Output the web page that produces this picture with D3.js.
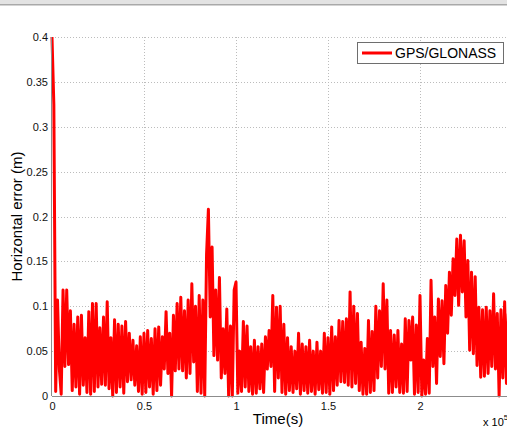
<!DOCTYPE html>
<html>
<head>
<meta charset="utf-8">
<script src="https://cdn.jsdelivr.net/npm/d3@7/dist/d3.min.js"></script>
<style>
  html, body { margin: 0; padding: 0; background: #fff; }
  svg { display: block; font-family: "Liberation Sans", Arial, sans-serif; }
</style>
</head>
<body>
<svg id="chart" width="507" height="427"></svg>
<script>
// Horizontal positioning error of the combined GPS/GLONASS solution,
// one sample every 1000 s (metres).
const sampleInterval = 1000;
const horizontalError = [
  0.400, 0.325, 0.005, 0.107, 0.030, 0.002, 0.118, 0.033, 0.118, 0.035,
  0.095, 0.006, 0.080, 0.010, 0.088, 0.002, 0.090, 0.012, 0.065, 0.004,
  0.094, 0.002, 0.103, 0.005, 0.103, 0.010, 0.076, 0.013, 0.088, 0.012,
  0.105, 0.008, 0.065, 0.000, 0.085, 0.004, 0.080, 0.010, 0.078, 0.003,
  0.083, 0.016, 0.070, 0.018, 0.062, 0.012, 0.056, 0.005, 0.066, 0.002,
  0.070, 0.004, 0.073, 0.010, 0.064, 0.002, 0.075, 0.006, 0.077, 0.012,
  0.066, 0.030, 0.094, 0.025, 0.070, 0.000, 0.090, 0.028, 0.103, 0.030,
  0.110, 0.028, 0.095, 0.020, 0.107, 0.025, 0.125, 0.038, 0.100, 0.005,
  0.112, 0.003, 0.107, 0.000, 0.158, 0.208, 0.088, 0.166, 0.045, 0.118,
  0.040, 0.132, 0.020, 0.075, 0.025, 0.097, 0.000, 0.078, 0.000, 0.118,
  0.127, 0.003, 0.050, 0.005, 0.083, 0.010, 0.078, 0.005, 0.055, 0.002,
  0.062, 0.003, 0.055, 0.008, 0.058, 0.004, 0.066, 0.030, 0.073, 0.033,
  0.112, 0.005, 0.099, 0.020, 0.100, 0.004, 0.080, 0.002, 0.065, 0.006,
  0.055, 0.004, 0.050, 0.008, 0.070, 0.002, 0.058, 0.006, 0.055, 0.003,
  0.062, 0.005, 0.050, 0.002, 0.060, 0.007, 0.050, 0.003, 0.070, 0.004,
  0.065, 0.002, 0.077, 0.006, 0.066, 0.012, 0.084, 0.016, 0.083, 0.015,
  0.086, 0.012, 0.116, 0.010, 0.100, 0.014, 0.092, 0.006, 0.060, 0.002,
  0.053, 0.002, 0.084, 0.004, 0.072, 0.006, 0.100, 0.020, 0.095, 0.033,
  0.125, 0.030, 0.107, 0.003, 0.073, 0.004, 0.068, 0.010, 0.073, 0.004,
  0.058, 0.003, 0.086, 0.005, 0.084, 0.040, 0.088, 0.002, 0.079, 0.004,
  0.112, 0.000, 0.040, 0.002, 0.064, 0.003, 0.129, 0.033, 0.088, 0.014,
  0.108, 0.044, 0.106, 0.036, 0.123, 0.070, 0.138, 0.090, 0.153, 0.112,
  0.175, 0.101, 0.179, 0.116, 0.173, 0.088, 0.151, 0.051, 0.138, 0.047,
  0.133, 0.034, 0.099, 0.021, 0.096, 0.022, 0.099, 0.025, 0.095, 0.033,
  0.114, 0.030, 0.092, 0.000, 0.096, 0.020, 0.105, 0.014, 0.092
];

const xTicks = [0, 50000, 100000, 150000, 200000];
const xTickLabels = ["0", "0.5", "1", "1.5", "2"];
const yTicks = [0, 0.05, 0.1, 0.15, 0.2, 0.25, 0.3, 0.35, 0.4];
const yTickLabels = ["0", "0.05", "0.1", "0.15", "0.2", "0.25", "0.3", "0.35", "0.4"];
const seriesName = "GPS/GLONASS";
const xLabel = "Time(s)";
const yLabel = "Horizontal error (m)";

const svg = d3.select("#chart");
const W = 507, H = 427;
const margin = { left: 52, top: 37, bottom: 31 };
const plotRight = 512;           // axes continue past the right edge of the window

const x = d3.scaleLinear().domain([0, 250000]).range([margin.left, plotRight]);
const y = d3.scaleLinear().domain([0, 0.4]).range([H - margin.bottom, margin.top]);

// window title strip
svg.append("rect").attr("x", 0).attr("y", 0).attr("width", W).attr("height", 4).attr("fill", "#e3e3e3");
svg.append("rect").attr("x", 0).attr("y", 4).attr("width", W).attr("height", 1.5).attr("fill", "#a9a9a9");

// dotted grid
const grid = svg.append("g").attr("stroke", "#bcbcbc").attr("stroke-width", 1).attr("stroke-dasharray", "1,2");
grid.selectAll("line.gy").data(yTicks.filter(d => d > 0)).join("line")
  .attr("class", "gy")
  .attr("x1", margin.left).attr("x2", plotRight)
  .attr("y1", d => Math.round(y(d)) + 0.5).attr("y2", d => Math.round(y(d)) + 0.5);
grid.selectAll("line.gx").data(xTicks.filter(d => d > 0)).join("line")
  .attr("class", "gx")
  .attr("y1", y(0.4)).attr("y2", y(0))
  .attr("x1", d => Math.round(x(d)) + 0.5).attr("x2", d => Math.round(x(d)) + 0.5);

// error trace
const line = d3.line()
  .x((d, i) => x(i * sampleInterval))
  .y(d => y(d));
svg.append("path")
  .datum(horizontalError)
  .attr("fill", "none")
  .attr("stroke", "#ff0000")
  .attr("stroke-width", 3)
  .attr("stroke-linejoin", "round")
  .attr("d", line);

// axes
const xAxis = d3.axisBottom(x).tickValues(xTicks)
  .tickFormat((d, i) => xTickLabels[i]).tickSize(0).tickPadding(6);
const yAxis = d3.axisLeft(y).tickValues(yTicks)
  .tickFormat((d, i) => yTickLabels[i]).tickSize(0).tickPadding(4);

const gx = svg.append("g").attr("transform", `translate(0,${y(0)})`).call(xAxis);
const gy = svg.append("g").attr("transform", `translate(${margin.left},0)`).call(yAxis);
[gx, gy].forEach(g => {
  g.select(".domain").remove();
  g.selectAll("text").attr("font-size", 11).attr("fill", "#111")
    .attr("font-family", "'Liberation Sans', Arial, sans-serif");
});

svg.append("line").attr("x1", margin.left).attr("x2", plotRight)
  .attr("y1", y(0) + 0.5).attr("y2", y(0) + 0.5).attr("stroke", "#8c8c8c");
svg.append("line").attr("x1", margin.left - 0.5).attr("x2", margin.left - 0.5)
  .attr("y1", y(0.4)).attr("y2", y(0)).attr("stroke", "#8c8c8c");

// axis titles
svg.append("text").attr("x", 278).attr("y", 424)
  .attr("text-anchor", "middle").attr("font-size", 15).attr("fill", "#000").text(xLabel);
svg.append("text").attr("transform", `translate(22,${(y(0) + y(0.4)) / 2}) rotate(-90)`)
  .attr("text-anchor", "middle").attr("font-size", 15).attr("fill", "#000").text(yLabel);

// exponent of the time axis
const expo = svg.append("text").attr("x", 483).attr("y", 425.5).attr("font-size", 11).attr("fill", "#000");
expo.append("tspan").text("x 10");
expo.append("tspan").attr("font-size", 8).attr("dy", -6).text("5");

// legend
const lg = svg.append("g").attr("transform", "translate(357,42)");
lg.append("rect").attr("x", 0.5).attr("y", 0.5).attr("width", 146).attr("height", 21)
  .attr("fill", "#fff").attr("stroke", "#6e6e6e");
lg.append("line").attr("x1", 5).attr("x2", 35).attr("y1", 11).attr("y2", 11)
  .attr("stroke", "#ff0000").attr("stroke-width", 3);
lg.append("text").attr("x", 38).attr("y", 16).attr("font-size", 14).attr("fill", "#000").text(seriesName);
</script>
</body>
</html>
